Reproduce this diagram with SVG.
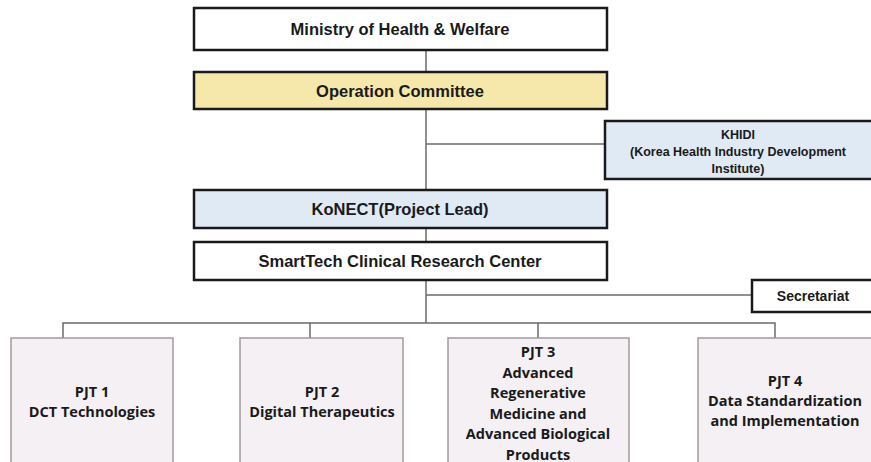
<svg xmlns="http://www.w3.org/2000/svg" width="871" height="462" viewBox="0 0 871 462">
<style>
.top{stroke:#1a1a1a;stroke-width:2.5}
.pjt{fill:#f4f0f4;stroke:#a09a9e;stroke-width:1.5}
.t{font-family:"Liberation Sans",Arial,sans-serif;font-weight:bold;fill:#1a1a1a;text-anchor:middle}
.p{font-family:"Open Sans","Noto Sans",sans-serif;font-weight:bold;font-size:14.5px;fill:#1a1a1a;text-anchor:middle}
.c{fill:none;stroke:#6e6a6a;stroke-width:1.5}
</style>
<rect width="871" height="462" fill="#ffffff"/>
<g id="connectors">
<path class="c" d="M426 50V72M426 109V190M426 228V242M426 280V323M426 144H605M426 295H752"/>
<path class="c" d="M63 338V323H775V338M310 323V338M538 323V338"/>
</g>
<g id="ministry">
<rect class="top" x="194" y="8" width="413" height="42" fill="#ffffff"/>
<text class="t" x="400" y="35" font-size="16.5">Ministry of Health &amp; Welfare</text>
</g>
<g id="operation">
<rect class="top" x="194" y="72" width="413" height="37" fill="#f6e7ab"/>
<text class="t" x="400" y="96.500" font-size="16.5">Operation Committee</text>
</g>
<g id="khidi">
<rect class="top" x="605" y="121" width="272" height="58" fill="#dfeaf5"/>
<text class="t" x="738" y="139" font-size="12.5">KHIDI</text>
<text class="t" x="738" y="156" font-size="12.5">(Korea Health Industry Development</text>
<text class="t" x="738" y="172.500" font-size="12.5">Institute)</text>
</g>
<g id="konect">
<rect class="top" x="194" y="190" width="413" height="38" fill="#dfeaf5"/>
<text class="t" x="400" y="215" font-size="16.5">KoNECT(Project Lead)</text>
</g>
<g id="smarttech">
<rect class="top" x="194" y="242" width="413" height="38" fill="#ffffff"/>
<text class="t" x="400" y="267" font-size="16.5">SmartTech Clinical Research Center</text>
</g>
<g id="secretariat">
<rect class="top" x="752" y="280" width="125" height="32" fill="#ffffff"/>
<text class="t" x="813" y="300.500" font-size="14">Secretariat</text>
</g>
<g id="pjt1">
<rect class="pjt" x="11" y="338" width="162" height="130"/>
<text class="p" x="92" y="397">PJT 1</text>
<text class="p" x="92" y="417">DCT Technologies</text>
</g>
<g id="pjt2">
<rect class="pjt" x="240" y="338" width="163" height="130"/>
<text class="p" x="322" y="397">PJT 2</text>
<text class="p" x="322" y="417">Digital Therapeutics</text>
</g>
<g id="pjt3">
<rect class="pjt" x="448" y="338" width="181" height="130"/>
<text class="p" x="538" y="357">PJT 3</text>
<text class="p" x="538" y="377.500">Advanced</text>
<text class="p" x="538" y="398">Regenerative</text>
<text class="p" x="538" y="418.500">Medicine and</text>
<text class="p" x="538" y="439">Advanced Biological</text>
<text class="p" x="538" y="459.500">Products</text>
</g>
<g id="pjt4">
<rect class="pjt" x="698" y="338" width="180" height="130"/>
<text class="p" x="785" y="386">PJT 4</text>
<text class="p" x="785" y="406">Data Standardization</text>
<text class="p" x="785" y="426">and Implementation</text>
</g>
</svg>
